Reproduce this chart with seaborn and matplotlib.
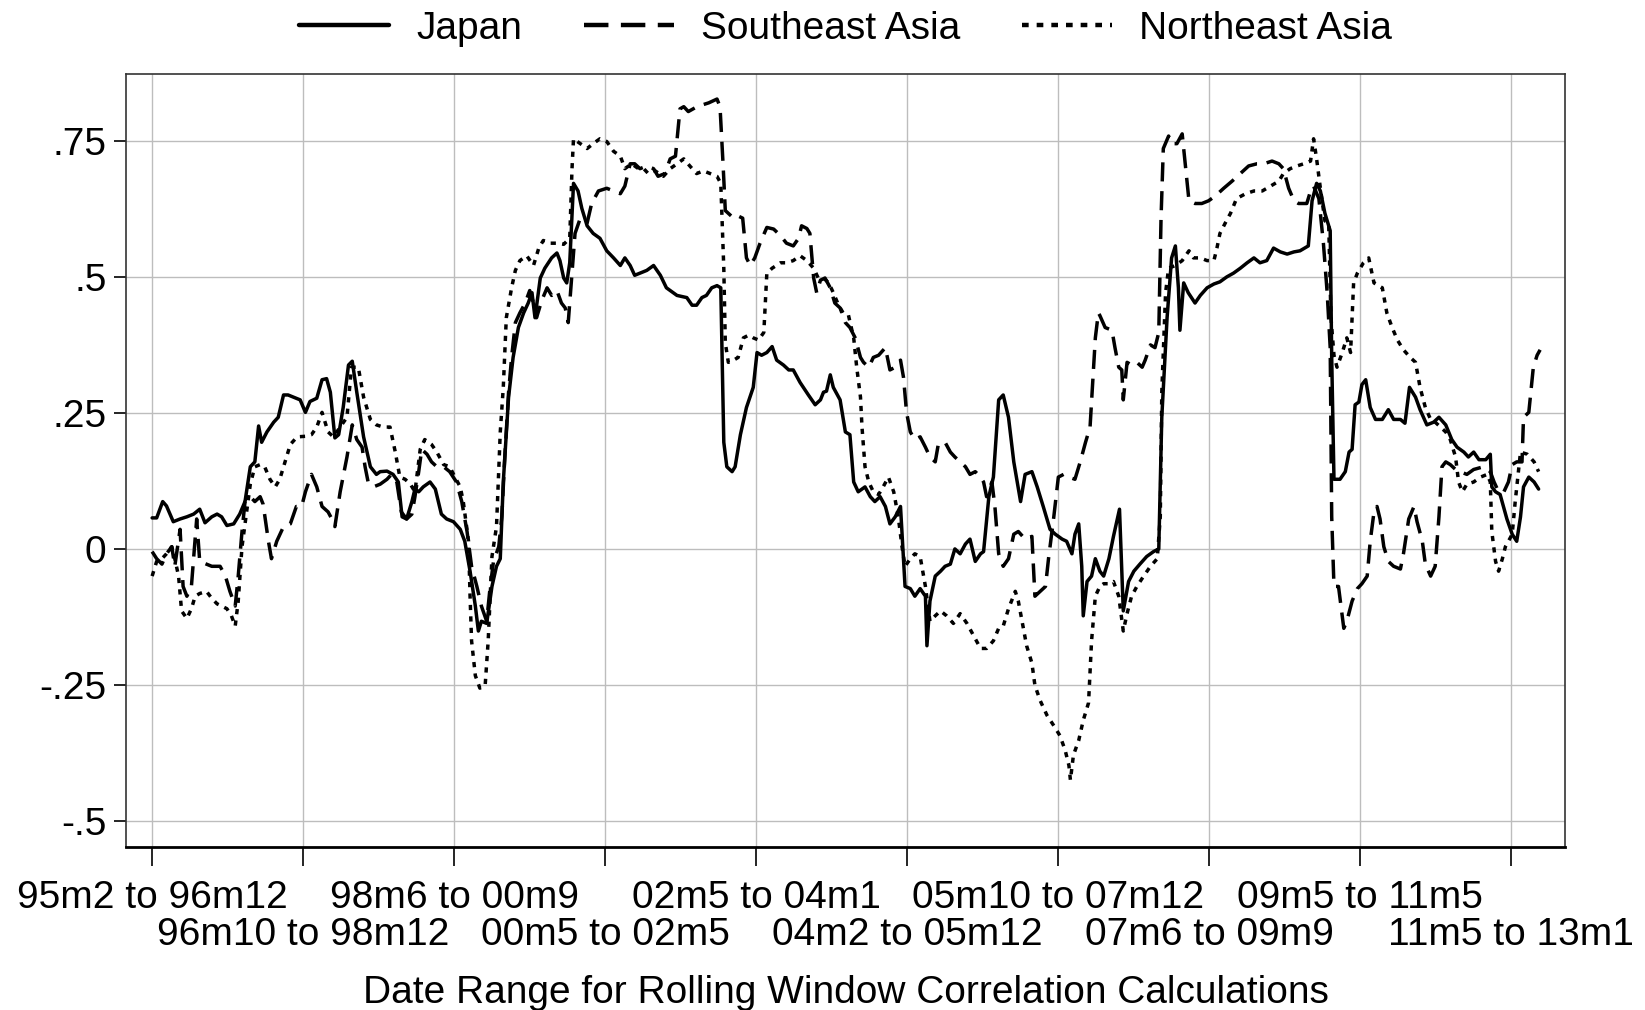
import matplotlib
matplotlib.use("Agg")
import pandas as pd
import matplotlib.pyplot as plt
import seaborn as sns

# x = observation index of the rolling window, y = correlation
jp_x = [0.0, 0.6, 1.4, 1.9, 2.8, 3.7, 4.6, 5.5, 6.3, 7.0, 7.9, 8.6, 9.2, 9.9, 10.8, 11.6, 12.3, 13.0, 13.6, 14.1,
        14.5, 15.2, 16.1, 16.7, 17.4, 18.0, 18.7, 19.6, 20.3, 20.9, 21.8, 22.5, 23.1, 23.6, 24.2, 24.7, 25.3, 26.0,
        26.5, 27.1, 28.0, 28.9, 29.7, 30.2, 31.1, 31.9, 32.6, 33.1, 33.7, 34.4, 34.8, 35.3, 35.9, 36.8, 37.5, 38.3,
        39.0, 39.9, 40.8, 41.4, 42.1, 42.8, 43.2, 43.6, 44.3, 45.0, 45.6, 46.1, 46.5, 47.2, 47.8, 48.5, 49.2, 49.8,
        50.3, 50.7, 51.4, 52.0, 52.9, 53.6, 54.0, 54.5, 54.9, 55.3, 55.8, 56.4, 56.9, 57.6, 58.4, 59.3, 60.2, 61.1,
        62.0, 62.6, 63.3, 63.9, 64.6, 65.5, 66.4, 67.3, 68.1, 69.5, 70.8, 71.5, 72.1, 72.8, 73.4, 74.1, 74.8, 75.3,
        75.7, 76.1, 76.8, 77.2, 77.9, 78.7, 79.6, 80.1, 80.7, 81.4, 82.1, 82.7, 83.6, 84.3, 84.9, 85.8, 86.9, 87.8,
        88.5, 88.9, 89.3, 89.8, 90.2, 91.1, 91.8, 92.4, 92.9, 93.5, 94.4, 95.1, 95.7, 96.4, 97.1, 97.7, 98.4, 99.1,
        99.7, 100.4, 101.0, 101.7, 102.4, 102.6, 103.0, 103.7, 104.4, 105.0, 105.7, 106.3, 107.0, 107.7, 108.3,
        109.0, 109.7, 110.1, 110.8, 111.4, 112.1, 112.7, 113.4, 114.1, 115.0, 115.6, 116.5, 117.2, 118.0, 118.9,
        119.6, 120.5, 121.1, 121.8, 122.2, 122.7, 123.1, 123.3, 123.8, 124.4, 124.9, 125.5, 126.0, 126.7, 127.3,
        128.1, 128.6, 129.3, 130.0, 130.8, 131.7, 132.6, 133.3, 133.7, 134.4, 135.0, 135.5, 135.9, 136.1, 136.6,
        137.2, 138.1, 138.8, 139.7, 140.6, 141.4, 142.3, 143.2, 144.1, 145.0, 145.9, 146.7, 147.6, 148.5, 149.4,
        150.3, 151.2, 152.0, 153.1, 153.6, 154.2, 154.7, 155.3, 156.0, 156.2, 156.5, 157.3, 158.0, 158.5, 158.9,
        159.3, 159.8, 160.2, 160.7, 161.3, 162.0, 162.9, 163.7, 164.4, 165.3, 165.9, 166.5, 167.3, 167.9, 168.8,
        169.7, 170.4, 171.3, 172.1, 172.8, 173.7, 174.3, 175.0, 175.7, 176.6, 177.2, 177.4, 177.9, 178.5, 179.4,
        180.1, 180.7, 181.2, 181.6, 182.3, 183.0, 183.6]
jp_y = [0.058, 0.058, 0.088, 0.080, 0.051, 0.056, 0.060, 0.065, 0.074, 0.049, 0.060, 0.065, 0.060, 0.044, 0.047,
        0.065, 0.088, 0.152, 0.161, 0.227, 0.197, 0.216, 0.234, 0.243, 0.284, 0.284, 0.280, 0.275, 0.252, 0.272,
        0.278, 0.312, 0.314, 0.289, 0.205, 0.211, 0.261, 0.339, 0.346, 0.289, 0.207, 0.152, 0.138, 0.143, 0.144,
        0.138, 0.124, 0.060, 0.056, 0.088, 0.111, 0.106, 0.115, 0.124, 0.111, 0.065, 0.056, 0.051, 0.037, 0.015,
        -0.040, -0.104, -0.150, -0.132, -0.136, -0.068, -0.031, -0.017, 0.124, 0.280, 0.353, 0.408, 0.435, 0.453,
        0.472, 0.426, 0.499, 0.517, 0.536, 0.545, 0.531, 0.499, 0.490, 0.527, 0.673, 0.659, 0.627, 0.595, 0.581,
        0.572, 0.549, 0.536, 0.522, 0.536, 0.522, 0.504, 0.508, 0.513, 0.522, 0.504, 0.481, 0.467, 0.463, 0.449,
        0.449, 0.463, 0.467, 0.481, 0.485, 0.481, 0.197, 0.152, 0.143, 0.152, 0.211, 0.261, 0.298, 0.362, 0.357,
        0.362, 0.373, 0.348, 0.339, 0.330, 0.330, 0.307, 0.284, 0.266, 0.275, 0.289, 0.291, 0.321, 0.298, 0.275,
        0.216, 0.211, 0.124, 0.106, 0.115, 0.097, 0.088, 0.097, 0.079, 0.047, 0.060, 0.079, -0.068, -0.072, -0.086,
        -0.072, -0.086, -0.177, -0.095, -0.049, -0.040, -0.031, -0.027, 0.001, -0.008, 0.010, 0.019, -0.022, -0.008,
        -0.004, 0.097, 0.133, 0.275, 0.284, 0.243, 0.161, 0.088, 0.138, 0.143, 0.115, 0.079, 0.037, 0.028, 0.019,
        0.015, -0.008, 0.028, 0.047, -0.031, -0.122, -0.059, -0.049, -0.017, -0.040, -0.049, -0.017, 0.024, 0.074,
        -0.113, -0.059, -0.040, -0.027, -0.013, -0.004, 0.001, 0.243, 0.426, 0.536, 0.558, 0.481, 0.403, 0.490,
        0.472, 0.453, 0.467, 0.481, 0.488, 0.492, 0.501, 0.508, 0.517, 0.527, 0.536, 0.527, 0.531, 0.554, 0.547,
        0.543, 0.547, 0.549, 0.558, 0.641, 0.673, 0.659, 0.618, 0.586, 0.353, 0.129, 0.129, 0.143, 0.179, 0.184,
        0.266, 0.271, 0.303, 0.312, 0.261, 0.239, 0.239, 0.257, 0.239, 0.239, 0.232, 0.298, 0.280, 0.257, 0.229,
        0.234, 0.243, 0.229, 0.202, 0.188, 0.179, 0.170, 0.179, 0.165, 0.165, 0.175, 0.115, 0.106, 0.101, 0.056,
        0.028, 0.015, 0.060, 0.115, 0.133, 0.124, 0.111]

sea_x = [0.0, 0.6, 1.3, 1.9, 2.6, 3.0, 3.7, 4.1, 4.6, 5.2, 5.9, 6.3, 7.2, 7.9, 9.0, 9.7, 10.3, 11.0, 11.4, 11.9,
         12.3, 13.0, 13.6, 14.3, 14.7, 15.4, 15.8, 16.5, 17.4, 18.3, 19.1, 19.8, 20.3, 21.1, 21.8, 22.5, 23.3, 23.8,
         24.2, 24.9, 25.8, 26.5, 27.1, 27.8, 28.2, 28.6, 29.3, 30.2, 31.1, 31.7, 32.4, 33.0, 33.7, 34.4, 34.8, 35.3,
         35.7, 36.4, 37.0, 37.7, 38.6, 39.4, 40.3, 41.0, 41.7, 42.3, 43.0, 43.6, 44.3, 44.7, 45.2, 45.9, 46.3, 46.7,
         47.2, 47.6, 48.1, 48.7, 49.4, 50.0, 50.5, 50.9, 51.6, 52.3, 52.9, 53.6, 54.2, 54.7, 55.1, 55.6, 56.0, 56.7,
         57.6, 58.2, 59.1, 60.2, 61.1, 62.0, 62.6, 63.3, 63.9, 64.6, 65.5, 66.4, 67.0, 67.9, 68.6, 69.3, 69.9, 70.4,
         71.0, 71.9, 72.8, 73.7, 74.8, 75.2, 75.6, 75.9, 76.3, 77.0, 77.6, 78.2, 78.7, 79.2, 79.8, 80.5, 81.4, 82.3,
         83.2, 84.0, 84.9, 85.6, 86.0, 86.7, 87.1, 87.6, 88.0, 88.5, 89.1, 89.8, 90.4, 91.1, 91.8, 92.4, 93.1, 93.8,
         94.2, 94.9, 95.5, 96.2, 97.1, 97.7, 98.4, 99.1, 99.5, 99.9, 100.4, 101.0, 101.7, 102.4, 103.0, 103.7,
         104.1, 105.0, 105.7, 106.3, 107.0, 107.7, 108.3, 109.0, 109.7, 110.1, 110.5, 111.2, 111.6, 112.1, 112.7,
         113.4, 114.1, 114.7, 115.6, 116.5, 116.9, 117.6, 118.3, 118.7, 119.4, 120.0, 120.7, 121.4, 122.2, 122.9,
         123.6, 124.2, 124.9, 125.3, 125.5, 126.2, 127.1, 127.5, 128.0, 128.4, 128.6, 129.1, 129.7, 130.4, 131.1,
         131.5, 132.2, 132.8, 133.3, 133.6, 133.9, 134.6, 135.0, 135.7, 136.4, 136.8, 137.3, 138.1, 139.0, 139.9,
         140.8, 141.9, 143.0, 144.1, 145.2, 146.3, 147.2, 148.3, 149.2, 149.8, 150.5, 151.2, 151.8, 152.9, 153.4,
         153.8, 154.5, 155.1, 155.6, 156.0, 156.2, 156.5, 157.1, 157.6, 157.8, 158.2, 158.9, 159.6, 160.2, 160.9,
         161.3, 161.8, 162.2, 162.6, 163.1, 163.7, 164.4, 165.3, 165.7, 166.4, 167.1, 167.5, 168.2, 168.6, 169.3,
         169.9, 170.4, 170.8, 171.3, 171.9, 172.6, 173.2, 174.1, 175.0, 176.3, 177.2, 177.7, 178.3, 179.0, 179.6,
         180.1, 180.7, 181.4, 181.6, 182.3, 182.9, 183.4, 183.8]
sea_y = [-0.004, -0.017, -0.027, -0.008, 0.005, -0.031, 0.037, -0.068, -0.086, -0.068, 0.056, -0.022, -0.027,
         -0.031, -0.031, -0.049, -0.077, -0.104, -0.049, 0.033, 0.088, 0.097, 0.088, 0.097, 0.083, 0.015, -0.017,
         0.015, 0.042, 0.047, 0.079, 0.079, 0.106, 0.138, 0.115, 0.079, 0.069, 0.056, 0.042, 0.106, 0.170, 0.229,
         0.202, 0.188, 0.152, 0.124, 0.115, 0.120, 0.129, 0.138, 0.124, 0.069, 0.056, 0.065, 0.097, 0.143, 0.184,
         0.175, 0.161, 0.152, 0.152, 0.143, 0.124, 0.088, 0.033, -0.031, -0.068, -0.104, -0.132, -0.077, -0.022,
         0.005, 0.060, 0.170, 0.289, 0.353, 0.417, 0.435, 0.453, 0.476, 0.453, 0.426, 0.458, 0.481, 0.467, 0.476,
         0.453, 0.444, 0.417, 0.508, 0.581, 0.609, 0.600, 0.636, 0.659, 0.664, 0.659, 0.654, 0.668, 0.709, 0.709,
         0.700, 0.705, 0.700, 0.686, 0.691, 0.718, 0.723, 0.810, 0.814, 0.805, 0.812, 0.817, 0.821, 0.828, 0.814,
         0.709, 0.623, 0.618, 0.609, 0.613, 0.609, 0.536, 0.522, 0.536, 0.563, 0.592, 0.589, 0.577, 0.563, 0.558,
         0.572, 0.595, 0.590, 0.581, 0.499, 0.472, 0.495, 0.499, 0.481, 0.453, 0.444, 0.417, 0.408, 0.389, 0.353,
         0.344, 0.335, 0.353, 0.357, 0.371, 0.330, 0.335, 0.348, 0.316, 0.252, 0.216, 0.202, 0.207, 0.188, 0.170,
         0.161, 0.193, 0.197, 0.179, 0.170, 0.161, 0.152, 0.138, 0.143, 0.133, 0.124, 0.097, 0.124, 0.079, -0.008,
         -0.031, -0.017, 0.028, 0.033, 0.019, 0.024, -0.086, -0.077, -0.068, -0.017, 0.060, 0.133, 0.138, 0.133,
         0.129, 0.161, 0.197, 0.225, 0.389, 0.435, 0.430, 0.408, 0.403, 0.371, 0.335, 0.330, 0.275, 0.344, 0.339,
         0.344, 0.335, 0.348, 0.376, 0.371, 0.399, 0.609, 0.737, 0.760, 0.746, 0.746, 0.764, 0.709, 0.641, 0.636,
         0.636, 0.641, 0.650, 0.664, 0.677, 0.691, 0.705, 0.709, 0.709, 0.714, 0.709, 0.700, 0.664, 0.641, 0.636,
         0.636, 0.659, 0.668, 0.645, 0.563, 0.472, 0.371, 0.060, -0.068, -0.068, -0.122, -0.145, -0.132, -0.095,
         -0.072, -0.063, -0.049, 0.015, 0.069, 0.079, 0.056, 0.005, -0.022, -0.031, -0.036, -0.008, 0.056, 0.079,
         0.051, 0.015, -0.027, -0.049, -0.031, 0.060, 0.152, 0.161, 0.156, 0.147, 0.143, 0.138, 0.147, 0.152,
         0.143, 0.124, 0.106, 0.106, 0.124, 0.156, 0.161, 0.161, 0.243, 0.252, 0.335, 0.357, 0.367]

nea_x = [0.0, 0.6, 1.3, 1.9, 2.6, 3.0, 3.5, 3.9, 4.6, 5.2, 5.7, 6.3, 7.2, 7.9, 8.6, 9.2, 9.9, 10.5, 11.0, 11.4,
         11.9, 12.3, 13.0, 13.6, 14.3, 14.9, 15.6, 16.3, 16.9, 17.6, 18.3, 19.2, 20.3, 21.1, 21.8, 22.5, 23.3, 24.0,
         24.9, 25.8, 26.4, 27.3, 28.0, 28.9, 29.7, 30.6, 31.5, 32.2, 32.8, 33.5, 34.2, 34.8, 35.5, 36.1, 37.0, 37.7,
         38.6, 39.4, 40.1, 40.8, 41.2, 41.9, 42.1, 42.3, 42.8, 43.4, 44.1, 44.5, 45.0, 45.6, 46.1, 46.5, 46.9, 47.6,
         48.1, 48.7, 49.6, 50.5, 51.2, 51.8, 52.7, 53.6, 54.5, 55.3, 55.6, 55.8, 56.7, 57.6, 58.4, 59.3, 60.2, 61.1,
         62.0, 62.6, 63.5, 64.4, 65.1, 65.7, 66.6, 67.7, 68.6, 69.5, 70.4, 71.2, 72.1, 73.0, 73.9, 74.8, 75.3, 75.7,
         75.9, 76.3, 77.0, 77.6, 78.3, 79.0, 79.6, 80.3, 81.0, 81.4, 82.1, 83.2, 84.0, 84.9, 85.8, 86.7, 87.6, 88.2,
         88.9, 89.6, 90.2, 90.9, 91.5, 92.2, 92.9, 93.3, 93.8, 94.0, 94.4, 94.9, 95.5, 96.2, 96.8, 97.5, 98.2, 98.8,
         99.3, 99.7, 100.4, 101.0, 101.7, 102.4, 103.0, 103.7, 104.4, 105.2, 106.1, 107.0, 107.9, 108.8, 109.7,
         110.5, 111.4, 112.1, 112.7, 113.4, 114.3, 114.7, 115.2, 115.8, 116.5, 116.9, 117.6, 118.5, 119.4, 120.2,
         120.9, 121.4, 121.6, 122.0, 122.7, 123.3, 124.0, 124.4, 124.9, 125.5, 126.0, 126.7, 127.3, 128.0, 128.6,
         129.1, 129.7, 130.4, 131.3, 132.2, 133.1, 133.5, 133.7, 134.2, 134.6, 135.5, 136.4, 137.3, 137.9, 138.8,
         139.7, 140.6, 141.0, 141.4, 142.1, 142.8, 143.6, 144.8, 145.9, 147.0, 148.1, 149.2, 149.8, 150.7, 151.6,
         152.5, 153.4, 153.8, 154.2, 154.7, 155.3, 155.8, 156.1, 156.5, 156.9, 157.6, 158.2, 158.7, 159.1, 159.6,
         160.4, 161.1, 161.8, 162.9, 163.5, 164.2, 164.9, 165.7, 166.6, 167.3, 167.9, 168.6, 169.3, 169.9, 170.6,
         171.3, 171.9, 172.6, 173.0, 173.5, 174.1, 175.0, 175.9, 176.8, 177.2, 177.4, 177.9, 178.3, 178.8, 179.2,
         179.6, 180.1, 180.5, 181.2, 182.1, 183.0, 183.6]
nea_y = [-0.049, -0.022, -0.017, -0.008, 0.005, -0.017, -0.049, -0.113, -0.127, -0.109, -0.086, -0.081, -0.077,
         -0.090, -0.100, -0.104, -0.109, -0.122, -0.141, -0.095, 0.005, 0.047, 0.120, 0.152, 0.156, 0.152, 0.129,
         0.115, 0.129, 0.161, 0.193, 0.207, 0.208, 0.211, 0.225, 0.252, 0.216, 0.207, 0.225, 0.243, 0.335, 0.335,
         0.280, 0.239, 0.229, 0.225, 0.225, 0.179, 0.133, 0.129, 0.120, 0.106, 0.184, 0.202, 0.193, 0.179, 0.156,
         0.152, 0.133, 0.115, 0.088, 0.015, -0.086, -0.168, -0.232, -0.255, -0.250, -0.168, -0.013, 0.042, 0.216,
         0.298, 0.426, 0.481, 0.513, 0.531, 0.540, 0.522, 0.554, 0.568, 0.563, 0.563, 0.561, 0.572, 0.700, 0.755,
         0.746, 0.737, 0.746, 0.755, 0.750, 0.732, 0.723, 0.700, 0.709, 0.700, 0.700, 0.691, 0.696, 0.686, 0.700,
         0.709, 0.718, 0.705, 0.691, 0.696, 0.691, 0.686, 0.673, 0.517, 0.380, 0.344, 0.348, 0.353, 0.389, 0.394,
         0.389, 0.385, 0.399, 0.508, 0.517, 0.527, 0.527, 0.531, 0.540, 0.531, 0.517, 0.499, 0.499, 0.490, 0.472,
         0.449, 0.435, 0.431, 0.389, 0.335, 0.280, 0.225, 0.152, 0.124, 0.106, 0.101, 0.115, 0.133, 0.106, 0.060,
         0.005, -0.031, -0.017, -0.008, -0.013, -0.068, -0.132, -0.122, -0.113, -0.122, -0.136, -0.118, -0.136,
         -0.159, -0.182, -0.182, -0.168, -0.145, -0.141, -0.109, -0.077, -0.095, -0.132, -0.177, -0.209, -0.250,
         -0.278, -0.305, -0.324, -0.342, -0.369, -0.397, -0.424, -0.378, -0.351, -0.314, -0.282, -0.168, -0.086,
         -0.068, -0.063, -0.063, -0.059, -0.086, -0.150, -0.118, -0.086, -0.068, -0.049, -0.031, -0.017, 0.060,
         0.289, 0.472, 0.517, 0.522, 0.531, 0.549, 0.536, 0.536, 0.531, 0.531, 0.554, 0.581, 0.600, 0.618, 0.645,
         0.654, 0.659, 0.659, 0.668, 0.677, 0.691, 0.700, 0.705, 0.709, 0.714, 0.755, 0.718, 0.664, 0.604, 0.600,
         0.426, 0.357, 0.335, 0.362, 0.389, 0.362, 0.490, 0.508, 0.527, 0.536, 0.490, 0.481, 0.435, 0.408, 0.385,
         0.367, 0.353, 0.344, 0.298, 0.261, 0.239, 0.234, 0.225, 0.216, 0.202, 0.170, 0.124, 0.106, 0.120, 0.124,
         0.133, 0.138, 0.124, 0.033, -0.022, -0.040, -0.017, 0.005, 0.015, 0.028, 0.088, 0.179, 0.175, 0.161,
         0.143]

regions = ["Japan", "Southeast Asia", "Northeast Asia"]
tick_pos = [0, 20, 40, 60, 80, 100, 120, 140, 160, 180]
tick_labels = ["95m2 to 96m12", "96m10 to 98m12", "98m6 to 00m9", "00m5 to 02m5", "02m5 to 04m1",
               "04m2 to 05m12", "05m10 to 07m12", "07m6 to 09m9", "09m5 to 11m5", "11m5 to 13m1"]
y_ticks = [-0.5, -0.25, 0, 0.25, 0.5, 0.75]
y_labels = ["-.5", "-.25", "0", ".25", ".5", ".75"]

df = pd.concat([
    pd.DataFrame({"obs": jp_x, "corr": jp_y, "Region": regions[0]}),
    pd.DataFrame({"obs": sea_x, "corr": sea_y, "Region": regions[1]}),
    pd.DataFrame({"obs": nea_x, "corr": nea_y, "Region": regions[2]}),
], ignore_index=True)

sns.set_theme(style="white")
plt.rcParams["font.family"] = ["Liberation Sans", "DejaVu Sans"]
plt.rcParams["text.color"] = "black"
plt.rcParams["axes.labelcolor"] = "black"

fig = plt.figure(figsize=(16.45, 10.10), dpi=100)
ax = fig.add_axes([0.0766, 0.1614, 0.8748, 0.7653])

sns.lineplot(data=df, x="obs", y="corr", style="Region", style_order=regions,
             dashes={"Japan": "", "Southeast Asia": (5.5, 2.8), "Northeast Asia": (1.5, 1.8)},
             color="black", linewidth=2.5, estimator=None, ax=ax)

ax.set_xlim(-3.46, 187.1)
ax.set_ylim(-0.547, 0.874)

# tick labels alternate between two rows, as in the original
ax.set_xticks(tick_pos)
ax.set_xticklabels([])
xtrans = ax.get_xaxis_transform()
for i, (pos, lab) in enumerate(zip(tick_pos, tick_labels)):
    ax.text(pos, -0.043 if i % 2 == 0 else -0.091, lab, transform=xtrans,
            ha="center", va="top", fontsize=28, color="black")
ax.set_yticks(y_ticks)
ax.set_yticklabels(y_labels, fontsize=28)

ax.tick_params(axis="x", bottom=True, length=14, width=1.2, colors="black")
ax.tick_params(axis="y", left=True, length=9, width=1.2, pad=5, colors="black")

ax.grid(True, color="#bdbdbd", linewidth=1.0)
ax.set_axisbelow(True)
for side in ["top", "right", "left"]:
    ax.spines[side].set_color("#333333")
    ax.spines[side].set_linewidth(1.2)
ax.spines["bottom"].set_color("black")
ax.spines["bottom"].set_linewidth(2.0)

ax.set_xlabel("Date Range for Rolling Window Correlation Calculations", fontsize=28, labelpad=75)
ax.set_ylabel("")

handles, labels = ax.get_legend_handles_labels()
ax.get_legend().remove()
leg = ax.legend(handles, labels, loc="lower center", bbox_to_anchor=(0.5, 1.0), ncol=3, frameon=False,
                fontsize=28, handlelength=2.3, handletextpad=0.7, columnspacing=1.6, borderaxespad=0.3)
for line in leg.get_lines():
    line.set_linewidth(3.2)

fig.savefig("out.png", dpi=100)
